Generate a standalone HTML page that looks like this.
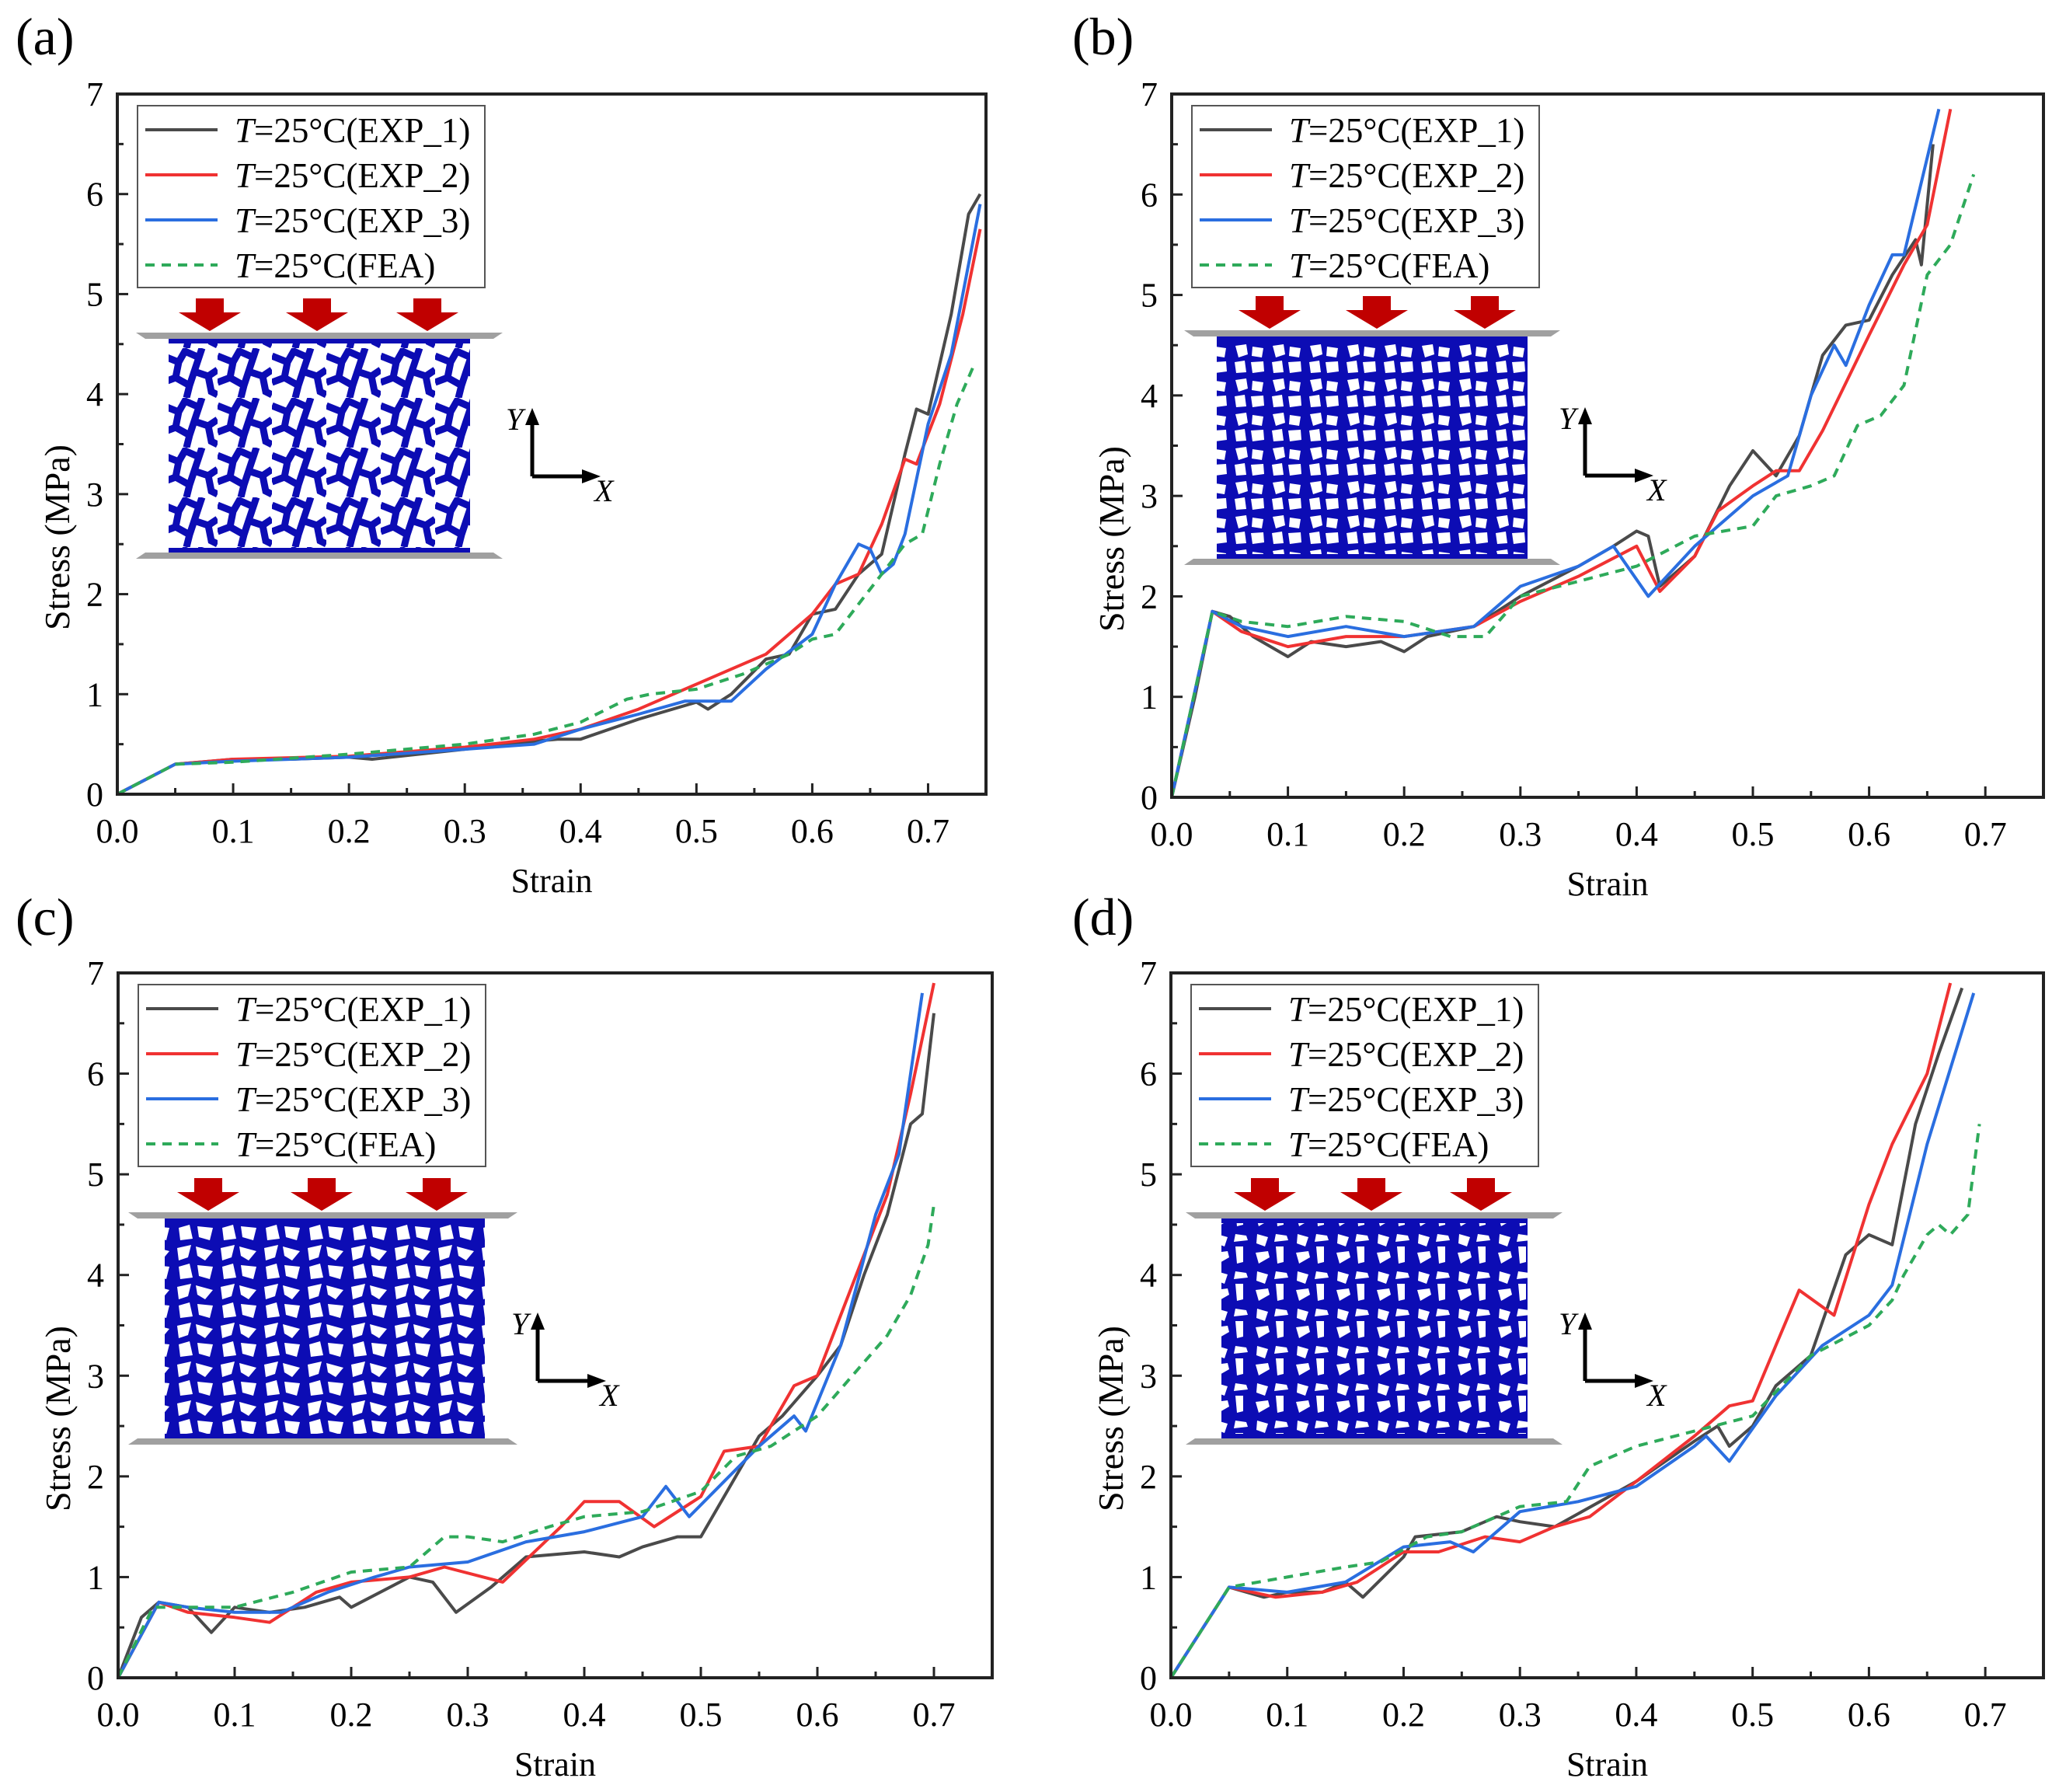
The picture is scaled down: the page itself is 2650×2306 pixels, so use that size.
<!DOCTYPE html>
<html><head><meta charset="utf-8">
<style>
html,body{margin:0;padding:0;background:#fff;}
svg{display:block;font-family:"Liberation Serif",serif;}
</style></head>
<body>
<svg id="fig" width="2650" height="2306" viewBox="0 0 2650 2306" xmlns="http://www.w3.org/2000/svg">
<defs>
<pattern id="latA" width="70" height="64" patternUnits="userSpaceOnUse">
<path d="M0 10 L20 18 L28 4 L46 12 L40 30 L58 36 L70 28 M20 18 L16 38 L0 44 M16 38 L34 48 L40 30 M34 48 L30 64 M58 36 L62 56 L70 60 M46 12 L50 0" fill="none" stroke="#0c0cb4" stroke-width="9" stroke-linejoin="miter"/>
</pattern>
<pattern id="latB" width="48" height="44" patternUnits="userSpaceOnUse">
<rect width="48" height="44" fill="#0c0cb4"/>
<polygon points="6,5 20,3 22,16 10,20" fill="#fff"/>
<polygon points="28,6 42,8 40,20 27,18" fill="#fff"/>
<polygon points="5,26 18,24 20,39 7,40" fill="#fff"/>
<polygon points="26,26 42,25 43,38 28,40" fill="#fff"/>
</pattern>
<pattern id="latC" width="56" height="50" patternUnits="userSpaceOnUse">
<rect width="56" height="50" fill="#0c0cb4"/>
<polygon points="4,6 22,2 18,18 6,22" fill="#fff"/>
<polygon points="28,4 50,10 40,22 30,16" fill="#fff"/>
<polygon points="6,30 20,26 24,44 8,46" fill="#fff"/>
<polygon points="30,28 50,30 46,46 32,42" fill="#fff"/>
</pattern>
<pattern id="latD" width="52" height="48" patternUnits="userSpaceOnUse">
<rect width="52" height="48" fill="#0c0cb4"/>
<polygon points="6,4 20,8 16,20 5,16" fill="#fff"/>
<polygon points="30,4 44,6 46,12 28,14" fill="#fff"/>
<polygon points="30,20 40,20 40,40 32,42" fill="#fff"/>
<polygon points="4,28 20,26 22,34 8,42" fill="#fff"/>
</pattern>
</defs>
</svg>
<script>
// ---------- Data (strain, stress MPa) ----------
const xTicks = [0.0,0.1,0.2,0.3,0.4,0.5,0.6,0.7];
const xTickLabels = ["0.0","0.1","0.2","0.3","0.4","0.5","0.6","0.7"];
const yTicks = [0,1,2,3,4,5,6,7];
const yTickLabels = ["0","1","2","3","4","5","6","7"];
const legendLabels = ["(EXP_1)","(EXP_2)","(EXP_3)","(FEA)"];

const aExp1X=[0,0.02,0.05,0.1,0.15,0.2,0.22,0.3,0.35,0.38,0.4,0.45,0.5,0.51,0.53,0.56,0.58,0.6,0.62,0.64,0.66,0.68,0.69,0.7,0.72,0.735,0.745];
const aExp1Y=[0,0.12,0.3,0.35,0.35,0.37,0.35,0.45,0.52,0.55,0.55,0.75,0.92,0.85,1.0,1.35,1.4,1.8,1.85,2.2,2.4,3.4,3.85,3.8,4.8,5.8,6.0];
const aExp2X=[0,0.05,0.1,0.2,0.3,0.36,0.4,0.45,0.5,0.53,0.56,0.6,0.62,0.64,0.66,0.68,0.69,0.71,0.73,0.745];
const aExp2Y=[0,0.3,0.35,0.38,0.47,0.55,0.65,0.85,1.1,1.25,1.4,1.8,2.1,2.2,2.7,3.35,3.3,3.9,4.8,5.65];
const aExp3X=[0,0.05,0.1,0.2,0.3,0.36,0.4,0.45,0.49,0.53,0.56,0.6,0.62,0.64,0.65,0.66,0.67,0.68,0.7,0.72,0.745];
const aExp3Y=[0,0.3,0.33,0.37,0.45,0.5,0.65,0.8,0.93,0.93,1.25,1.6,2.1,2.5,2.45,2.2,2.3,2.6,3.7,4.4,5.9];
const aFeaX=[0,0.05,0.1,0.2,0.3,0.36,0.4,0.44,0.46,0.5,0.54,0.58,0.6,0.62,0.64,0.66,0.68,0.695,0.71,0.725,0.74];
const aFeaY=[0,0.3,0.32,0.4,0.5,0.6,0.72,0.95,1.0,1.05,1.2,1.4,1.55,1.6,1.9,2.2,2.5,2.6,3.3,3.9,4.3];

const bExp1X=[0,0.02,0.035,0.05,0.07,0.1,0.12,0.15,0.18,0.2,0.22,0.26,0.3,0.35,0.38,0.4,0.41,0.42,0.45,0.48,0.5,0.52,0.54,0.56,0.58,0.6,0.62,0.64,0.645,0.655];
const bExp1Y=[0,1.0,1.85,1.8,1.6,1.4,1.55,1.5,1.55,1.45,1.6,1.7,2.0,2.3,2.5,2.65,2.6,2.1,2.4,3.1,3.45,3.2,3.6,4.4,4.7,4.75,5.2,5.55,5.3,6.5];
const bExp2X=[0,0.035,0.06,0.1,0.15,0.2,0.26,0.3,0.35,0.4,0.42,0.45,0.47,0.5,0.52,0.54,0.56,0.6,0.63,0.65,0.67];
const bExp2Y=[0,1.85,1.65,1.5,1.6,1.6,1.7,1.95,2.2,2.5,2.05,2.4,2.85,3.1,3.25,3.25,3.65,4.6,5.3,5.7,6.85];
const bExp3X=[0,0.035,0.06,0.1,0.15,0.2,0.26,0.3,0.35,0.38,0.41,0.45,0.5,0.53,0.55,0.57,0.58,0.6,0.62,0.63,0.66];
const bExp3Y=[0,1.85,1.7,1.6,1.7,1.6,1.7,2.1,2.3,2.5,2.0,2.5,3.0,3.2,4.0,4.5,4.3,4.9,5.4,5.4,6.85];
const bFeaX=[0,0.035,0.06,0.1,0.15,0.2,0.24,0.27,0.3,0.35,0.4,0.45,0.5,0.52,0.55,0.57,0.59,0.61,0.63,0.65,0.67,0.69];
const bFeaY=[0,1.85,1.75,1.7,1.8,1.75,1.6,1.6,2.0,2.15,2.3,2.6,2.7,3.0,3.1,3.2,3.7,3.8,4.1,5.2,5.5,6.2];

const cExp1X=[0,0.02,0.035,0.06,0.08,0.1,0.13,0.16,0.19,0.2,0.25,0.27,0.29,0.32,0.35,0.4,0.43,0.45,0.48,0.5,0.52,0.55,0.57,0.6,0.62,0.64,0.66,0.68,0.69,0.7];
const cExp1Y=[0,0.6,0.75,0.7,0.45,0.7,0.65,0.7,0.8,0.7,1.0,0.95,0.65,0.9,1.2,1.25,1.2,1.3,1.4,1.4,1.8,2.4,2.6,3.0,3.3,4.0,4.6,5.5,5.6,6.6];
const cExp2X=[0,0.035,0.06,0.1,0.13,0.17,0.2,0.25,0.28,0.33,0.38,0.4,0.43,0.46,0.5,0.52,0.55,0.58,0.6,0.62,0.64,0.66,0.68,0.7];
const cExp2Y=[0,0.75,0.65,0.6,0.55,0.85,0.95,1.0,1.1,0.95,1.5,1.75,1.75,1.5,1.8,2.25,2.3,2.9,3.0,3.6,4.2,4.8,5.8,6.9];
const cExp3X=[0,0.035,0.06,0.1,0.14,0.18,0.22,0.25,0.3,0.35,0.4,0.45,0.47,0.49,0.52,0.55,0.58,0.59,0.62,0.65,0.67,0.69];
const cExp3Y=[0,0.75,0.7,0.65,0.65,0.85,1.0,1.1,1.15,1.35,1.45,1.6,1.9,1.6,1.95,2.3,2.6,2.45,3.3,4.6,5.2,6.8];
const cFeaX=[0,0.03,0.06,0.1,0.15,0.2,0.25,0.28,0.3,0.33,0.37,0.4,0.45,0.5,0.53,0.56,0.6,0.63,0.66,0.68,0.695,0.7];
const cFeaY=[0,0.7,0.7,0.7,0.85,1.05,1.1,1.4,1.4,1.35,1.5,1.6,1.65,1.85,2.2,2.3,2.6,3.0,3.4,3.8,4.3,4.7];

const dExp1X=[0,0.05,0.08,0.1,0.13,0.15,0.165,0.2,0.21,0.25,0.28,0.3,0.33,0.4,0.45,0.47,0.48,0.5,0.52,0.55,0.58,0.6,0.62,0.64,0.66,0.68];
const dExp1Y=[0,0.9,0.8,0.85,0.85,0.95,0.8,1.2,1.4,1.45,1.6,1.55,1.5,1.95,2.35,2.5,2.3,2.5,2.9,3.2,4.2,4.4,4.3,5.5,6.2,6.85];
const dExp2X=[0,0.05,0.09,0.13,0.16,0.2,0.23,0.27,0.3,0.33,0.36,0.4,0.45,0.48,0.5,0.52,0.54,0.57,0.6,0.62,0.65,0.67];
const dExp2Y=[0,0.9,0.8,0.85,0.95,1.25,1.25,1.4,1.35,1.5,1.6,1.95,2.4,2.7,2.75,3.3,3.85,3.6,4.7,5.3,6.0,6.9];
const dExp3X=[0,0.05,0.1,0.15,0.2,0.24,0.26,0.3,0.35,0.4,0.45,0.46,0.48,0.52,0.56,0.6,0.62,0.65,0.69];
const dExp3Y=[0,0.9,0.85,0.95,1.3,1.35,1.25,1.65,1.75,1.9,2.3,2.4,2.15,2.8,3.3,3.6,3.9,5.3,6.8];
const dFeaX=[0,0.05,0.1,0.15,0.18,0.22,0.25,0.3,0.34,0.36,0.4,0.45,0.5,0.55,0.6,0.62,0.63,0.65,0.66,0.67,0.685,0.695];
const dFeaY=[0,0.9,1.0,1.1,1.15,1.4,1.45,1.7,1.75,2.1,2.3,2.45,2.6,3.2,3.5,3.75,4.0,4.4,4.5,4.4,4.6,5.5];

// ---------- Layout ----------
const NS="http://www.w3.org/2000/svg";
const svg=document.getElementById('fig');
const XMAX=0.75, YMAX=7;
const colors=["#4a4a4a","#f03232","#2a6ee0","#2eaa5a"];
const panels=[
 {id:'a',label:'(a)',L:151,R:1269,T:121,B:1022,lx:20,ly:70,
  series:[[aExp1X,aExp1Y],[aExp2X,aExp2Y],[aExp3X,aExp3Y],[aFeaX,aFeaY]],
  inset:{pl:175,pr:647,bl:217,br:605,top:428,bot:719,pat:'latA',arrows:[270,408,550]},coord:[685,613]},
 {id:'b',label:'(b)',L:1508,R:2630,T:121,B:1026,lx:1380,ly:70,
  series:[[bExp1X,bExp1Y],[bExp2X,bExp2Y],[bExp3X,bExp3Y],[bFeaX,bFeaY]],
  inset:{pl:1524,pr:2008,bl:1566,br:1966,top:425,bot:727,pat:'latB',arrows:[1634,1772,1911]},coord:[2040,612]},
 {id:'c',label:'(c)',L:152,R:1277,T:1252,B:2159,lx:20,ly:1203,
  series:[[cExp1X,cExp1Y],[cExp2X,cExp2Y],[cExp3X,cExp3Y],[cFeaX,cFeaY]],
  inset:{pl:165,pr:666,bl:212,br:624,top:1560,bot:1859,pat:'latC',arrows:[268,414,562]},coord:[692,1777]},
 {id:'d',label:'(d)',L:1507,R:2630,T:1252,B:2159,lx:1380,ly:1203,
  series:[[dExp1X,dExp1Y],[dExp2X,dExp2Y],[dExp3X,dExp3Y],[dFeaX,dFeaY]],
  inset:{pl:1526,pr:2011,bl:1572,br:1966,top:1560,bot:1859,pat:'latD',arrows:[1628,1765,1906]},coord:[2040,1777]}
];
function mk(tag,attrs,parent,text){const e=document.createElementNS(NS,tag);for(const k in attrs)e.setAttribute(k,attrs[k]);if(text!==undefined)e.textContent=text;(parent||svg).appendChild(e);return e;}

panels.forEach(p=>{
 const g=mk('g',{});
 
 
 const sx=v=>p.L+(v/XMAX)*(p.R-p.L);
 const sy=v=>p.B-(v/YMAX)*(p.B-p.T);
 const lab=mk('text',{x:p.lx,y:p.ly,'font-size':68},g,p.label);
 
 
 const I=p.inset;
 const ig=mk('g',{},g);
 
 
 mk('rect',{x:I.bl,y:I.top+10,width:I.br-I.bl,height:I.bot-I.top-20,fill:'url(#'+I.pat+')'},ig);
 mk('rect',{x:I.bl,y:I.top+2,width:I.br-I.bl,height:12,fill:'#0c0cb4'},ig);
 mk('rect',{x:I.bl,y:I.bot-14,width:I.br-I.bl,height:12,fill:'#0c0cb4'},ig);
 mk('polygon',{points:`${I.pl},${I.top} ${I.pr},${I.top} ${I.pr-12},${I.top+8} ${I.pl+12},${I.top+8}`,fill:'#a0a0a0'},ig);
 mk('polygon',{points:`${I.pl},${I.bot} ${I.pr},${I.bot} ${I.pr-12},${I.bot-8} ${I.pl+12},${I.bot-8}`,fill:'#a0a0a0'},ig);
 I.arrows.forEach(ax=>{
  const a=mk('polygon',{points:`${ax-18},${I.top-44} ${ax+18},${I.top-44} ${ax+18},${I.top-26} ${ax+40},${I.top-26} ${ax},${I.top-2} ${ax-40},${I.top-26} ${ax-18},${I.top-26}`,fill:'#c00000'},ig);
  
  
 });
 const [cx,cy]=p.coord;
 const cg=mk('g',{},g);
 
 
 mk('line',{x1:cx,y1:cy,x2:cx,y2:cy-70,stroke:'#000','stroke-width':5},cg);
 mk('polygon',{points:`${cx-9},${cy-66} ${cx+9},${cy-66} ${cx},${cy-88}`,fill:'#000'},cg);
 mk('line',{x1:cx,y1:cy,x2:cx+68,y2:cy,stroke:'#000','stroke-width':5},cg);
 mk('polygon',{points:`${cx+64},${cy-9} ${cx+64},${cy+9} ${cx+88},${cy}`,fill:'#000'},cg);
 mk('text',{x:cx-34,y:cy-60,'font-size':40,'font-style':'italic'},cg,'Y');
 mk('text',{x:cx+80,y:cy+32,'font-size':40,'font-style':'italic'},cg,'X');
 p.series.forEach((s,i)=>{
  const [xs,ys]=s;
  const d=xs.map((x,j)=>(j?'L':'M')+sx(x).toFixed(1)+' '+sy(ys[j]).toFixed(1)).join(' ');
  const path=mk('path',{d:d,fill:'none',stroke:colors[i],'stroke-width':4,'stroke-linejoin':'round','stroke-dasharray':i==3?'12 9':'none'},g);
  
  
 });
 const fr=mk('rect',{x:p.L,y:p.T,width:p.R-p.L,height:p.B-p.T,fill:'none',stroke:'#222','stroke-width':4},g);
 
 
 const xa=mk('g',{},g);
 
 
 xTicks.forEach((t,i)=>{
  mk('line',{x1:sx(t),y1:p.B,x2:sx(t),y2:p.B-14,stroke:'#222','stroke-width':3},xa);
  mk('line',{x1:sx(t+0.05),y1:p.B,x2:sx(t+0.05),y2:p.B-8,stroke:'#222','stroke-width':3},xa);
  mk('text',{x:sx(t),y:p.B+62,'font-size':44,'text-anchor':'middle'},xa,xTickLabels[i]);
 });
 const ya=mk('g',{},g);
 
 
 yTicks.forEach((t,i)=>{
  mk('line',{x1:p.L,y1:sy(t),x2:p.L+14,y2:sy(t),stroke:'#222','stroke-width':3},ya);
  if(t<7) mk('line',{x1:p.L,y1:sy(t+0.5),x2:p.L+8,y2:sy(t+0.5),stroke:'#222','stroke-width':3},ya);
  mk('text',{x:p.L-18,y:sy(t)+15,'font-size':44,'text-anchor':'end'},ya,yTickLabels[i]);
 });
 const xt=mk('text',{x:(p.L+p.R)/2,y:p.B+126,'font-size':44,'text-anchor':'middle'},g,'Strain');
 
 
 const ytx=p.L-62, yty=(p.T+p.B)/2+120;
 const yt=mk('text',{x:ytx,y:yty,'font-size':46,'text-anchor':'middle',transform:`rotate(-90 ${ytx} ${yty})`},g,'Stress (MPa)');
 
 
 const lg=mk('g',{},g);
 
 
 mk('rect',{x:p.L+26,y:p.T+15,width:447,height:234,fill:'#fff',stroke:'#555','stroke-width':2},lg);
 legendLabels.forEach((lbl,i)=>{
  const ry=p.T+46+i*58;
  const e=mk('g',{},lg);
  
  
  mk('line',{x1:p.L+36,y1:ry,x2:p.L+129,y2:ry,stroke:colors[i],'stroke-width':4,'stroke-dasharray':i==3?'12 9':'none'},e);
  const t=mk('text',{x:p.L+151,y:ry+16,'font-size':45},e);
  mk('tspan',{'font-style':'italic'},t,'T');
  mk('tspan',{},t,'=25°C'+lbl);
 });
});
</script>
</body></html>
